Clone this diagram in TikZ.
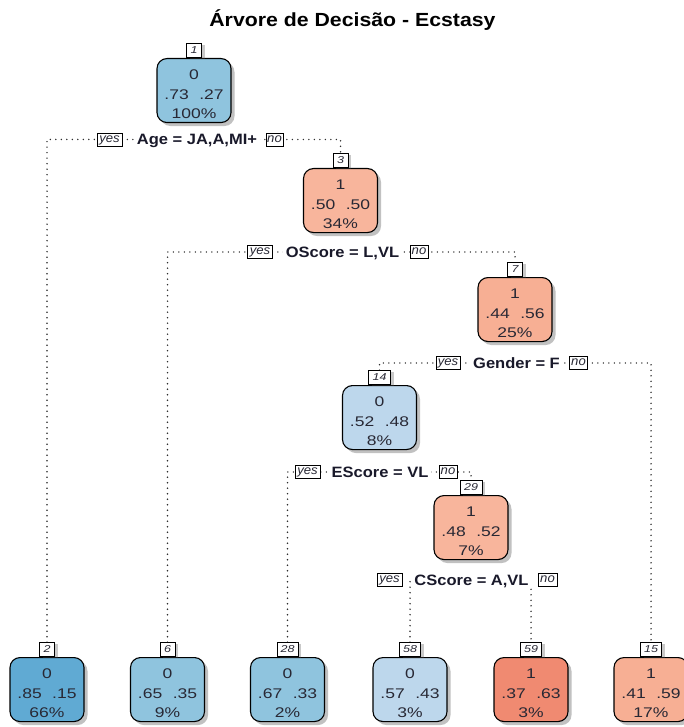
\documentclass[tikz,border=0pt]{standalone}
\usepackage{fontspec}
\setmainfont{Liberation Sans}
\newfontfamily\boxfont[FakeStretch=1.25]{Liberation Sans}
\newfontfamily\tagfont[FakeStretch=1.05]{Liberation Sans}
\newfontfamily\splitfont[FakeStretch=1.1]{Liberation Sans}
\newfontfamily\headfont[FakeStretch=1.12]{Liberation Sans}
\usetikzlibrary{shadows,backgrounds}

\definecolor{bluedeep}{RGB}{96,170,211}
\definecolor{bluemid}{RGB}{143,196,222}
\definecolor{bluepale}{RGB}{189,215,236}
\definecolor{salmon}{RGB}{248,181,156}
\definecolor{salmonmid}{RGB}{247,175,148}
\definecolor{coral}{RGB}{240,138,113}
\definecolor{nodeink}{RGB}{40,40,52}
\definecolor{splitink}{RGB}{25,25,42}
\definecolor{dotgray}{RGB}{45,45,45}

% class, two probabilities, share of observations
\newcommand\trio[4]{\begin{tabular}[t]{@{}c@{}}#1\\#2\hspace{0.75em}#3\\#4\end{tabular}}

\tikzset{
  treebox/.style={draw=black, line width=1.1pt, rounded corners=10pt,
    minimum width=74pt, inner xsep=2pt, inner ysep=0pt,
    text height=21pt, text depth=43pt, anchor=north,
    font=\boxfont\fontsize{14}{19.5}\selectfont, text=nodeink,
    drop shadow={shadow xshift=3.5pt, shadow yshift=-3.5pt, opacity=0.35, fill=black!70}},
  numlab/.style={draw=black, fill=white, line width=0.8pt, inner sep=0pt,
    minimum height=14pt, minimum width=15pt, anchor=south,
    text height=9pt, text depth=3pt,
    font=\boxfont\itshape\fontsize{10}{10}\selectfont, text=nodeink,
    drop shadow={shadow xshift=3pt, shadow yshift=-1pt, opacity=0.3, fill=black!70}},
  yesno/.style={draw=black, fill=white, line width=0.8pt, inner xsep=1pt, inner ysep=0pt,
    minimum height=13pt, text height=8.5pt, text depth=3pt,
    font=\tagfont\itshape\fontsize{12.5}{12.5}\selectfont, text=nodeink},
  splitlab/.style={fill=white, inner xsep=3pt, inner ysep=1pt,
    text height=11pt, text depth=1pt,
    font=\splitfont\bfseries\fontsize{15}{15}\selectfont, text=splitink},
  dotline/.style={draw=dotgray, line width=1.6pt, line cap=round,
    dash pattern=on 0pt off 5.5pt}
}

\begin{document}
\begin{tikzpicture}[x=1pt, y=-1pt]
\clip (0,0) rectangle (684,727);

% title
\node[font=\headfont\bfseries\fontsize{19}{19}\selectfont, anchor=base] (title)
  at (352.5,26.5) {Árvore de Decisão - Ecstasy};

% inner nodes
\node[treebox, fill=bluemid]   (n1)  at (194,58)    {\trio{0}{.73}{.27}{100\%}};
\node[treebox, fill=salmon]    (n3)  at (340.5,168) {\trio{1}{.50}{.50}{34\%}};
\node[treebox, fill=salmonmid] (n7)  at (515,277)   {\trio{1}{.44}{.56}{25\%}};
\node[treebox, fill=bluepale]  (n14) at (379.5,385) {\trio{0}{.52}{.48}{8\%}};
\node[treebox, fill=salmon]    (n29) at (471,495)   {\trio{1}{.48}{.52}{7\%}};

% leaves
\node[treebox, fill=bluedeep]  (n2)  at (47,657)    {\trio{0}{.85}{.15}{66\%}};
\node[treebox, fill=bluemid]   (n6)  at (167.5,657) {\trio{0}{.65}{.35}{9\%}};
\node[treebox, fill=bluemid]   (n28) at (287.5,657) {\trio{0}{.67}{.33}{2\%}};
\node[treebox, fill=bluepale]  (n58) at (410,657)   {\trio{0}{.57}{.43}{3\%}};
\node[treebox, fill=coral]     (n59) at (531,657)   {\trio{1}{.37}{.63}{3\%}};
\node[treebox, fill=salmonmid] (n15) at (651,657)   {\trio{1}{.41}{.59}{17\%}};

% node numbers
\node[numlab] (k1)  at (n1.north)  {1};
\node[numlab] (k3)  at (n3.north)  {3};
\node[numlab] (k7)  at (n7.north)  {7};
\node[numlab, minimum width=22pt] (k14) at (n14.north) {14};
\node[numlab, minimum width=22pt] (k29) at (n29.north) {29};
\node[numlab] (k2)  at (n2.north)  {2};
\node[numlab] (k6)  at (n6.north)  {6};
\node[numlab, minimum width=21pt] (k28) at (n28.north) {28};
\node[numlab, minimum width=21pt] (k58) at (n58.north) {58};
\node[numlab, minimum width=21pt] (k59) at (n59.north) {59};
\node[numlab, minimum width=21pt] (k15) at (n15.north) {15};

% split rules
\node[splitlab] (s1)  at (197,139.5) {Age = JA,A,MI+};
\node[yesno, minimum width=25pt] (y1) at (109.5,139.5) {yes};
\node[yesno, minimum width=17pt] (o1) at (274.5,139.5) {no};

\node[splitlab] (s3)  at (342.5,252) {OScore = L,VL};
\node[yesno, minimum width=25pt] (y3) at (260,252) {yes};
\node[yesno, minimum width=18pt] (o3) at (419,252) {no};

\node[splitlab] (s7)  at (516.5,363) {Gender = F};
\node[yesno, minimum width=24pt] (y7) at (448,363) {yes};
\node[yesno, minimum width=18pt] (o7) at (578.5,363) {no};

\node[splitlab] (s14) at (380,472) {EScore = VL};
\node[yesno, minimum width=25pt] (y14) at (307.5,472) {yes};
\node[yesno, minimum width=18pt] (o14) at (448,472) {no};

\node[splitlab] (s29) at (471.5,580) {CScore = A,VL};
\node[yesno, minimum width=25pt] (y29) at (389.5,580) {yes};
\node[yesno, minimum width=19pt] (o29) at (547.5,580) {no};

% branches, behind the labels
\begin{pgfonlayer}{background}
\draw[dotline] (k2.north)  |- (s1.center)  -| (k3.north);
\draw[dotline] (k6.north)  |- (s3.center)  -| (k7.north);
\draw[dotline] (k14.north) |- (s7.center)  -| (k15.north);
\draw[dotline] (k28.north) |- (s14.center) -| (k29.north);
\draw[dotline] (k58.north) |- (s29.center) -| (k59.north);
\end{pgfonlayer}
\end{tikzpicture}
\end{document}
